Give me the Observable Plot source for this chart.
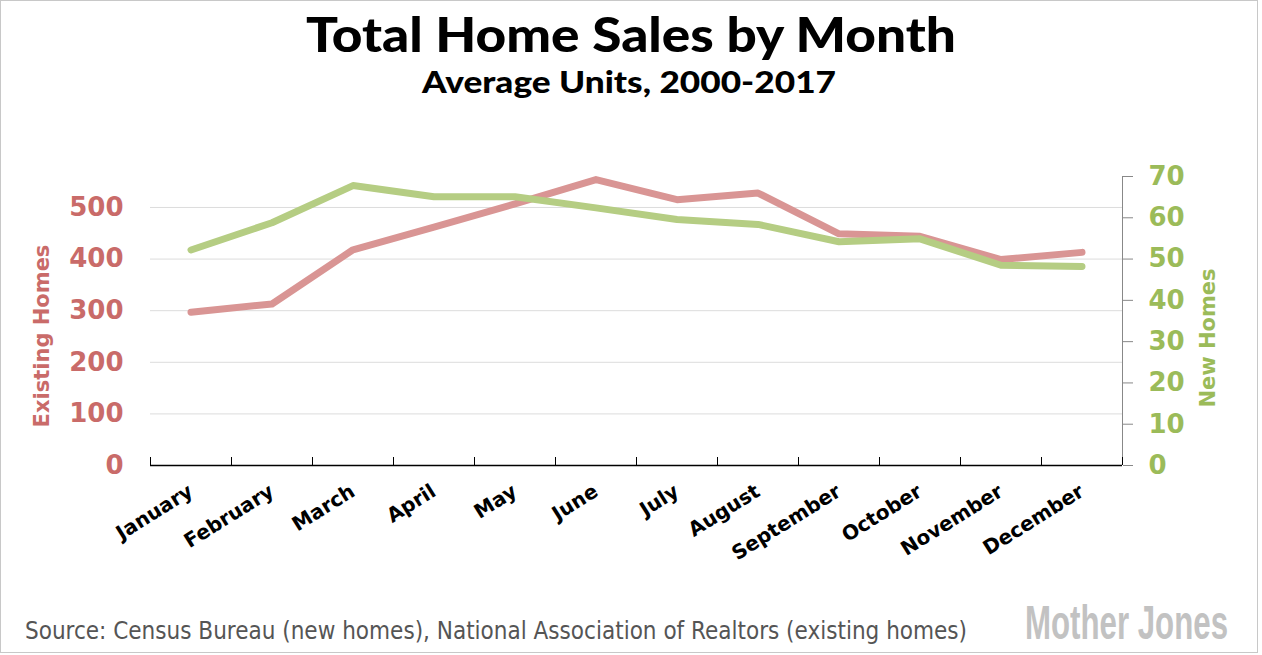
<!DOCTYPE html>
<html><head><meta charset="utf-8">
<script src="https://cdn.jsdelivr.net/npm/d3@7"></script>
<script src="https://cdn.jsdelivr.net/npm/@observablehq/plot@0.6"></script>
<style>
body{margin:0;background:#fff;}
#wrap{position:relative;width:1262px;height:655px;overflow:hidden;font-family:Lato,sans-serif;}
#frame{position:absolute;left:0;top:0;width:1258px;height:653px;border:1px solid #c8c8c8;box-sizing:border-box;}
#head{position:absolute;left:0;top:0;}
#chart{position:absolute;left:0;top:120px;}
#caption{position:absolute;left:25px;top:617px;font-family:"Liberation Sans Narrow","DejaVu Sans Condensed",sans-serif;font-size:24px;color:#555;white-space:nowrap;}
#logo{position:absolute;left:1025px;top:598px;font-family:"Liberation Sans Narrow",sans-serif;font-weight:700;font-size:37px;line-height:37px;color:#c2c2c2;white-space:nowrap;transform-origin:0 0;}
</style></head>
<body><div id="wrap">
<div id="frame"></div>
<svg id="head" width="1262" height="110">
  <text x="631" y="52" text-anchor="middle" textLength="650" lengthAdjust="spacingAndGlyphs" font-family="Lato, sans-serif" font-weight="900" font-size="48" fill="#000">Total Home Sales by Month</text>
  <text x="629" y="93" text-anchor="middle" textLength="414" lengthAdjust="spacingAndGlyphs" font-family="Lato, sans-serif" font-weight="900" font-size="30" fill="#000">Average Units, 2000-2017</text>
</svg>
<div id="chart"></div>
<div id="caption">Source: Census Bureau (new homes), National Association of Realtors (existing homes)</div>
<div id="logo">Mother Jones</div>
</div>
<script>
const months = ["January","February","March","April","May","June","July","August","September","October","November","December"];
const existing = [297,313,418,462,507,554,515,528,449,444,399,413];
const newHomes = [52.2,58.8,67.8,65.1,65.1,62.4,59.6,58.4,54.2,54.9,48.5,48.2];
const leftTicks = [0,100,200,300,400,500];
const rightTicks = [0,10,20,30,40,50,60,70];
const ratio = 8; // existing-axis units per new-homes unit (560 / 70)

const idx = months.map((m,i)=>i);
const bounds = d3.range(months.length+1).map(i=>i-0.5);
const axisFont = "DejaVu Sans, sans-serif";

const chart = Plot.plot({
  width:1262, height:470,
  marginLeft:150, marginRight:140, marginTop:56, marginBottom:125,
  x:{type:"linear", domain:[-0.5, months.length-0.5]},
  y:{domain:[0, 70*ratio]},
  style:{fontFamily:axisFont, background:"transparent", overflow:"visible"},
  marks:[
    Plot.gridY(leftTicks.slice(1), {stroke:"#dcdcdc", strokeOpacity:1}),
    Plot.axisY(leftTicks, {anchor:"left", tickSize:0, tickPadding:27, fontSize:26, fontWeight:700, fill:"#c96b69", label:null}),
    Plot.axisY(rightTicks.map(d=>d*ratio), {anchor:"right", tickSize:10, stroke:"#888", tickPadding:16, tickFormat:d=>d/ratio, fontSize:26, fontWeight:700, fill:"#9bbb59", label:null}),
    Plot.ruleX([months.length-0.5], {stroke:"#888"}),
    Plot.tickX(bounds, {x:d=>d, insetTop:281, stroke:"#000"}),
    Plot.ruleY([0], {stroke:"#000", strokeWidth:1.5}),
    Plot.axisX(idx, {tickSize:0, tickPadding:24, tickRotate:-32, tickFormat:i=>months[i], fontSize:20, fontWeight:700, fill:"#000", label:null}),
    Plot.lineY(existing, {x:(d,i)=>i, y:d=>d, stroke:"#d99594", strokeWidth:7, strokeLinecap:"round", strokeLinejoin:"round"}),
    Plot.lineY(newHomes, {x:(d,i)=>i, y:d=>d*ratio, stroke:"#b5cd83", strokeWidth:7, strokeLinecap:"round", strokeLinejoin:"round"}),
    Plot.text(["Existing Homes"], {frameAnchor:"left", textAnchor:"middle", dx:-108, dy:15, rotate:-90, fontSize:21, fontWeight:700, fill:"#c96b69"}),
    Plot.text(["New Homes"], {frameAnchor:"right", textAnchor:"middle", dx:86, dy:17, rotate:-90, fontSize:21, fontWeight:700, fill:"#9bbb59"})
  ]
});
document.getElementById("chart").appendChild(chart);

const logo = document.getElementById("logo");
const w = logo.getBoundingClientRect().width;
logo.style.transform = `scale(${203 / w}, 1.32)`;
</script>
</body></html>
